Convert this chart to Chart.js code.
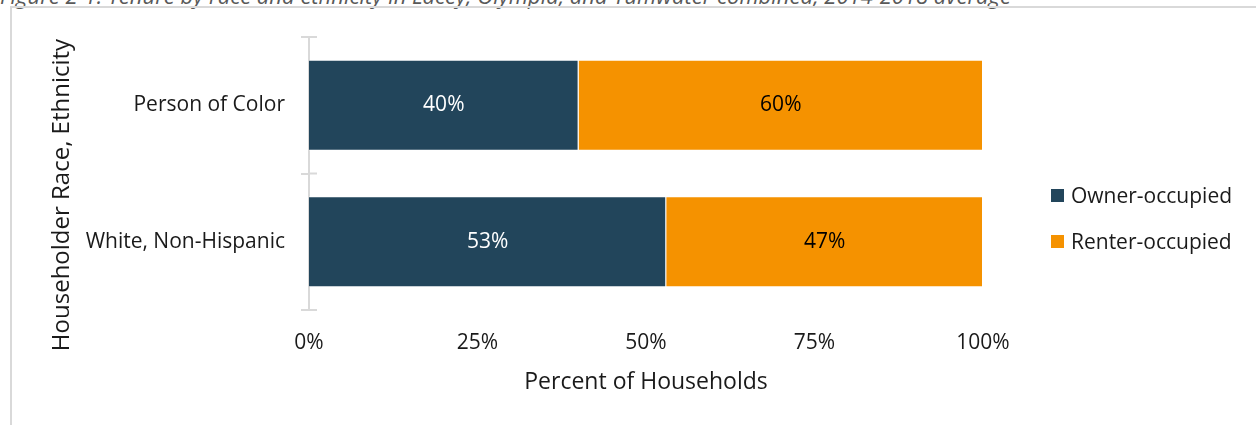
<!DOCTYPE html>
<html>
<head>
<meta charset="utf-8">
<script src="https://cdn.jsdelivr.net/npm/chart.js@4.4.0/dist/chart.umd.min.js"></script>
<style>
  body { margin: 0; background: #fff; font-family: 'Open Sans', sans-serif; }
  #wrap { position: relative; width: 1256px; height: 425px; overflow: hidden; }
  #caption { position: absolute; left: 0; top: -20px; font-style: italic; font-size: 22px; color: #595959; white-space: nowrap; }
  #frame { position: absolute; left: 10px; top: 6px; width: 1260px; height: 440px; border: 2px solid #d9d9d9; box-sizing: border-box; }
  canvas { position: absolute; left: 0; top: 0; }
  #legend { position: absolute; left: 1051px; top: 172px; }
  .item { display: flex; align-items: center; height: 46px; font-size: 21px; color: #1a1a1a; }
  .box { width: 13px; height: 13px; margin-right: 7px; }
</style>
</head>
<body>
<div id="wrap">
  <div id="caption">Figure 2-1: Tenure by race and ethnicity in Lacey, Olympia, and Tumwater combined, 2014-2018 average</div>
  <div id="frame"></div>
  <canvas id="chart" width="1256" height="425"></canvas>
  <div id="legend"></div>
</div>
<script>
// datos del gráfico
const categories = ['Person of Color', 'White, Non-Hispanic'];
const ownerOccupied = [40, 53];
const renterOccupied = [60, 47];
const seriesNames = ['Owner-occupied', 'Renter-occupied'];
const xTickStep = 25;

const textColor = '#1a1a1a';
const axisGray = '#d9d9d9';

// etiquetas de porcentaje dentro de las barras
const barLabels = {
  id: 'barLabels',
  afterDatasetsDraw(chart) {
    const ctx = chart.ctx;
    ctx.save();
    ctx.font = '21px "Open Sans"';
    ctx.textAlign = 'center';
    ctx.textBaseline = 'middle';
    chart.data.datasets.forEach((ds, i) => {
      ctx.fillStyle = i === 0 ? '#ffffff' : '#000000';
      chart.getDatasetMeta(i).data.forEach((bar, j) => {
        ctx.fillText(ds.data[j] + '%', (bar.x + bar.base) / 2, bar.y);
      });
    });
    ctx.restore();
  }
};

// marcas del eje vertical que cruzan hacia dentro
const crossTicks = {
  id: 'crossTicks',
  afterDatasetsDraw(chart) {
    const y = chart.scales.y;
    const n = y.ticks.length;
    const ctx = chart.ctx;
    ctx.save();
    ctx.strokeStyle = axisGray;
    ctx.lineWidth = 2;
    for (let k = 0; k <= n; k++) {
      const py = y.top + (y.bottom - y.top) * k / n;
      ctx.beginPath();
      ctx.moveTo(y.right, py);
      ctx.lineTo(y.right + 8, py);
      ctx.stroke();
    }
    ctx.restore();
  }
};

// título del eje vertical
const yTitle = {
  id: 'yTitle',
  afterDraw(chart) {
    const ctx = chart.ctx;
    ctx.save();
    ctx.translate(62, 195);
    ctx.rotate(-Math.PI / 2);
    ctx.font = '24px "Open Sans"';
    ctx.fillStyle = textColor;
    ctx.textAlign = 'center';
    ctx.textBaseline = 'middle';
    ctx.fillText('Householder Race, Ethnicity', 0, 0);
    ctx.restore();
  }
};

const chart = new Chart(document.getElementById('chart'), {
  type: 'bar',
  data: {
    labels: categories,
    datasets: [
      {
        label: seriesNames[0],
        data: ownerOccupied,
        backgroundColor: '#22455B',
        borderColor: 'rgba(255,255,255,0.5)',
        borderWidth: 1,
        barPercentage: 0.667,
        categoryPercentage: 1
      },
      {
        label: seriesNames[1],
        data: renterOccupied,
        backgroundColor: '#F59200',
        borderColor: 'rgba(255,255,255,0.5)',
        borderWidth: 1,
        barPercentage: 0.667,
        categoryPercentage: 1
      }
    ]
  },
  options: {
    indexAxis: 'y',
    responsive: false,
    animation: false,
    layout: { padding: { top: 37, right: 273, left: 0, bottom: 0 } },
    plugins: {
      legend: { display: false },
      tooltip: { enabled: false }
    },
    scales: {
      x: {
        stacked: true,
        min: 0,
        max: 100,
        grid: { display: false, drawTicks: false },
        border: { display: false },
        ticks: {
          stepSize: xTickStep,
          padding: 20,
          color: textColor,
          font: { family: 'Open Sans', size: 21 },
          callback: v => v + '%'
        },
        title: {
          display: true,
          text: 'Percent of Households',
          color: textColor,
          font: { family: 'Open Sans', size: 23 },
          padding: { top: 0, bottom: 29 }
        },
        afterFit: s => { s.height = 115; }
      },
      y: {
        stacked: true,
        grid: { drawOnChartArea: false, tickLength: 8, color: axisGray, lineWidth: 2, offset: true },
        border: { color: axisGray, width: 2 },
        ticks: {
          padding: 16,
          color: textColor,
          font: { family: 'Open Sans', size: 21 }
        },
        afterFit: s => { s.width = 309; }
      }
    }
  },
  plugins: [barLabels, crossTicks, yTitle]
});

// leyenda en HTML a la derecha
const legend = document.getElementById('legend');
chart.data.datasets.forEach(ds => {
  const item = document.createElement('div');
  item.className = 'item';
  item.innerHTML = '<span class="box" style="background:' + ds.backgroundColor + '"></span>' + ds.label;
  legend.appendChild(item);
});
</script>
</body>
</html>
